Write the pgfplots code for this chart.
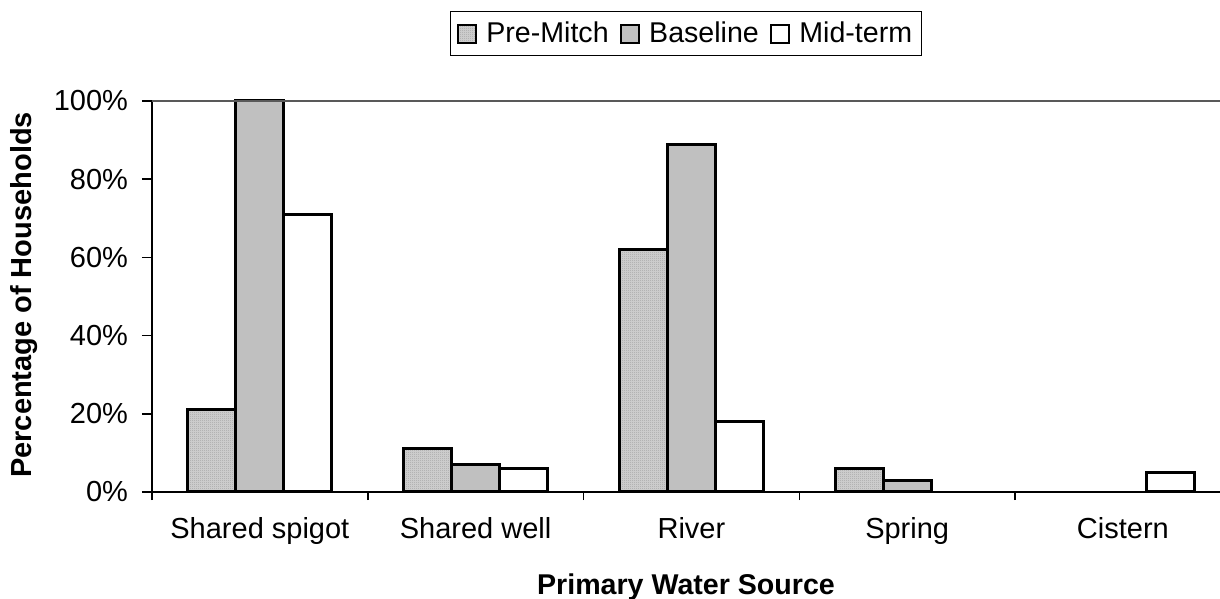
\documentclass[border=0pt]{standalone}
\usepackage{fontspec}
\setmainfont{Liberation Sans}
\usepackage{pgfplots}
\pgfplotsset{compat=1.18}
\usetikzlibrary{patterns}

% fine stipple for the Pre-Mitch bars
\pgfdeclarepatternformonly{finedots}{\pgfqpoint{0pt}{0pt}}{\pgfqpoint{1pt}{1pt}}{\pgfqpoint{1pt}{1pt}}{%
  \pgfpathrectangle{\pgfqpoint{0pt}{0pt}}{\pgfqpoint{0.5pt}{0.5pt}}\pgfusepath{fill}}

\definecolor{silver}{RGB}{192,192,192}

\pgfplotsset{
  sqlegend/.style={legend image code/.code={%
      \draw[##1,line width=1pt] (0pt,-4.5pt) rectangle (9pt,4.5pt);
      \path (12pt,0pt);}},
}

\begin{document}
\begin{tikzpicture}[font=\fontsize{14.5pt}{17pt}\selectfont]
\begin{axis}[
  scale only axis,
  width=534pt, height=195.5pt,
  ybar=0pt, bar width=24pt,
  clip=false,
  xmin=-0.5, xmax=4.45,
  ymin=0, ymax=100,
  axis x line*=bottom, axis y line*=left,
  axis line style={line width=0.75pt},
  xtick={0,...,4},
  xticklabels={Shared spigot, Shared well, River, Spring, Cistern},
  xticklabel style={yshift=-4pt},
  major x tick style={draw=none},
  minor xtick={-0.5,0.5,1.5,2.5,3.5},
  minor tick length=4pt,
  major tick length=5pt,
  tick align=outside,
  tick style={line width=0.75pt, black},
  ytick={0,20,...,100},
  yticklabel={\pgfmathprintnumber{\tick}\%},
  yticklabel style={xshift=-3.5pt},
  /pgf/number format/assume math mode=true,
  xlabel={Primary Water Source},
  ylabel={Percentage of Households},
  xlabel style={at={(axis description cs:0.5,-0.261)}, anchor=base,
    font=\fontsize{14.3pt}{17pt}\selectfont\bfseries},
  ylabel style={at={(axis description cs:-0.1195,0.504)}, anchor=center,
    font=\fontsize{14.5pt}{17pt}\selectfont\bfseries},
  legend columns=3,
  legend style={at={(axis description cs:0.5,1.1726)}, anchor=center,
    draw=black, line width=0.5pt, inner xsep=3pt, inner ysep=3pt,
    font=\fontsize{14.3pt}{17pt}\selectfont,
    nodes={inner xsep=1.5pt},
    /tikz/every even column/.append style={column sep=4pt}},
]
\addplot[sqlegend, draw=black, line width=1.5pt, fill=gray!40,
  postaction={pattern=finedots, pattern color=gray!85}]
  coordinates {(0,21) (1,11) (2,62) (3,6)};
\addlegendentry{Pre-Mitch}
\addplot[sqlegend, draw=black, line width=1.5pt, fill=silver]
  coordinates {(0,100) (1,7) (2,89) (3,3)};
\addlegendentry{Baseline}
\addplot[sqlegend, draw=black, line width=1.5pt, fill=white]
  coordinates {(0,71) (1,6) (2,18) (4,5)};
\addlegendentry{Mid-term}

\draw[gray!70!black, line width=0.75pt] (rel axis cs:0,1) -- (rel axis cs:1,1);
\coordinate (bl) at (rel axis cs:0,0);
\end{axis}
\pgfresetboundingbox
\path[use as bounding box] (bl) ++(-76pt,-53.5pt) rectangle ++(610pt,299.5pt);
\end{tikzpicture}
\end{document}
